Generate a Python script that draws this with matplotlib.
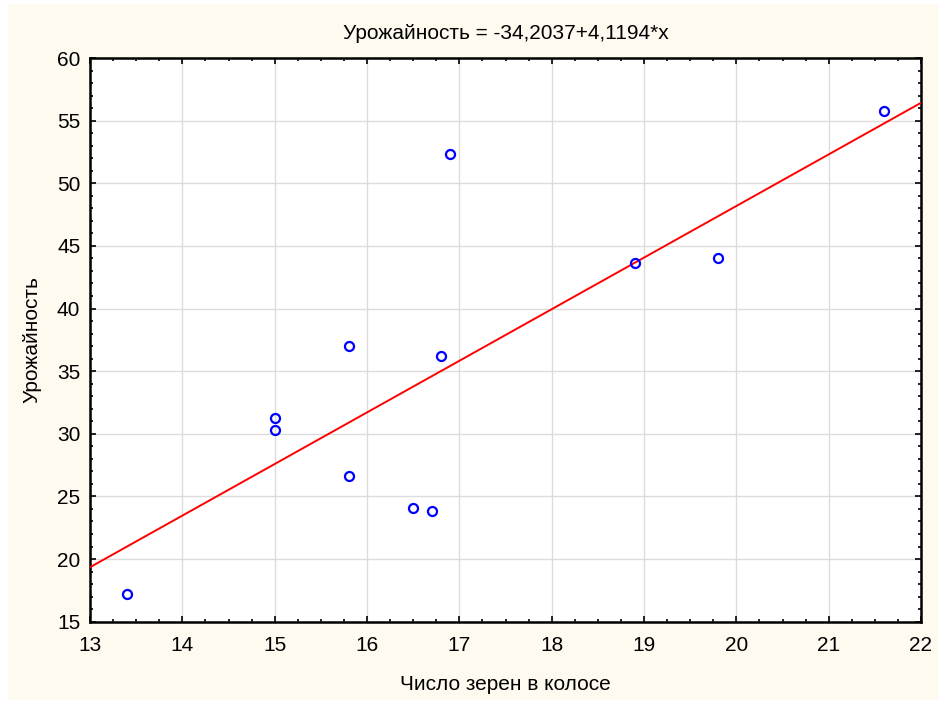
import matplotlib
matplotlib.use("Agg")
import matplotlib.pyplot as plt
from matplotlib.patches import Rectangle
from matplotlib.ticker import MultipleLocator
import numpy as np

plt.rcParams['font.family'] = ['Liberation Sans', 'DejaVu Sans']

x_vals = [13.4, 15.0, 15.0, 15.8, 15.8, 16.5, 16.7, 16.8, 16.9, 18.9, 19.8, 21.6]
y_vals = [17.2, 31.3, 30.3, 37.0, 26.6, 24.1, 23.8, 36.2, 52.3, 43.6, 44.0, 55.8]
intercept = -34.2037
slope = 4.1194
title = "Урожайность = -34,2037+4,1194*x"
xlabel = "Число зерен в колосе"
ylabel = "Урожайность"

fig = plt.figure(figsize=(9.41, 7.01), dpi=100, facecolor='white')
fig.patches.append(Rectangle((8/941, 1/701), 930/941, 696/701, transform=fig.transFigure,
                             facecolor='#FFFAF0', edgecolor='none', zorder=-10))
ax = fig.add_axes([90/941, 79.3/701, 831/941, 563.7/701])
ax.set_facecolor('white')

ax.set_xlim(13, 22)
ax.set_ylim(15, 60)
ax.xaxis.set_major_locator(MultipleLocator(1))
ax.xaxis.set_minor_locator(MultipleLocator(0.25))
ax.yaxis.set_major_locator(MultipleLocator(5))
ax.yaxis.set_minor_locator(MultipleLocator(1))
ax.grid(True, which='major', color='#DCDCDC', linewidth=1)
ax.set_axisbelow(True)

ax.tick_params(which='both', direction='in', top=True, right=True, colors='black',
               labelsize=15, width=1.2)
ax.tick_params(which='major', length=4)
ax.tick_params(axis='x', which='major', pad=10)
ax.tick_params(axis='y', which='major', pad=7)
ax.tick_params(which='minor', length=2.5)
for s in ax.spines.values():
    s.set_linewidth(1.8)
    s.set_color('black')

xl = np.array([13, 22])
ax.plot(xl, intercept + slope * xl, color='#FF0000', linewidth=1.4, zorder=3)
ax.plot(x_vals, y_vals, linestyle='none', marker='o', markersize=6.5,
        markerfacecolor='none', markeredgecolor='#0000FF', markeredgewidth=1.6, zorder=4)

ax.set_title(title, fontsize=15, pad=14)
ax.set_xlabel(xlabel, fontsize=15, labelpad=15)
ax.set_ylabel(ylabel, fontsize=15, labelpad=11)

fig.savefig('out.png', dpi=100, facecolor='white')
